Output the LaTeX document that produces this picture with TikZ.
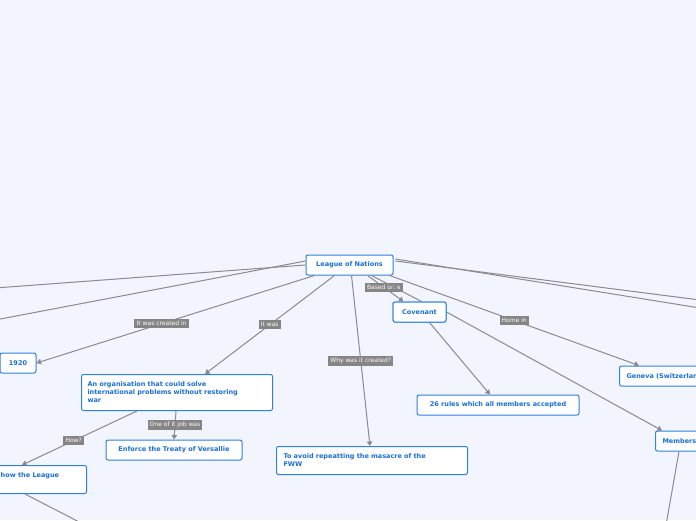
\documentclass[tikz,border=0pt]{standalone}
\usepackage{fontspec}
\setmainfont{DejaVu Sans}
\usetikzlibrary{arrows.meta}
\definecolor{bg}{HTML}{F2F5FE}
\definecolor{nb}{HTML}{2F80E0}
\definecolor{nt}{HTML}{1A6FD6}
\definecolor{lg}{HTML}{858585}
\definecolor{ln}{HTML}{8A8A90}
\tikzset{
 box/.style={draw=nb,line width=1pt,fill=white,rounded corners=2pt,text=nt,font=\bfseries\fontsize{6.5}{8}\selectfont,inner xsep=7pt,align=left,anchor=north west},
 lab/.style={fill=lg,text=white,font=\fontsize{6}{7}\selectfont,inner sep=2.2pt},
 conn/.style={draw=ln,line width=1pt},
 arr/.style={conn,-{Triangle[length=4.5pt,width=5.5pt]}}
}
\begin{document}
\begin{tikzpicture}[x=1pt,y=-1pt]
\fill[bg] (0,0) rectangle (696,520);
\useasboundingbox (0,0) rectangle (696,520);
% free ends
\coordinate (l1) at (-5,288);
\coordinate (l2) at (-5,320);
\coordinate (r1) at (700,300);
\coordinate (r2) at (700,308);
\coordinate (d1) at (666,525);
\coordinate (d2) at (85,525);
% nodes
\node[box,minimum width=87pt,minimum height=20pt,align=center,anchor=center] (lon) at (349.5,265) {League of Nations};
\node[box,minimum width=36pt,minimum height=20pt,anchor=center,align=center] (y1920) at (18,363) {1920};
\node[box,text width=179pt,minimum height=36pt,anchor=north west,inner xsep=6pt] (org) at (81,374) {An organisation that could solve\\international problems without restoring\\war};
\node[box,minimum width=136pt,minimum height=20pt,anchor=center,align=center] (enf) at (174,450) {Enforce the Treaty of Versallie};
\node[box,minimum width=120pt,minimum height=28pt,anchor=north east] (how) at (87,465) {n how the League\\\phantom{x}};
\node[box,text width=177pt,minimum height=28pt] (avoid) at (276,446) {To avoid repeatting the masacre of the\\FWW};
\node[box,minimum width=53pt,minimum height=20pt,anchor=center,align=center] (cov) at (419.5,312) {Covenant};
\node[box,minimum width=162pt,minimum height=20pt,anchor=center,align=center] (rules) at (498,405) {26 rules which all members accepted};
\node[box,minimum height=20pt,anchor=west] (gen) at (619,376) {Geneva (Switzerland)};
\node[box,minimum height=20pt,anchor=west] (mem) at (655,441) {Members};
% connectors
\draw[conn] (lon.west) -- (l1);
\draw[conn] ([yshift=4pt]lon.west) -- (l2);
\draw[conn] ([shift={(2pt,4pt)}]lon.east) -- (r1);
\draw[conn] ([shift={(2pt,6pt)}]lon.east) -- (r2);
\draw[arr] ([xshift=-35pt]lon.south) -- node[lab,pos=0.55]{It was created in} (y1920.east);
\draw[arr] ([xshift=-15pt]lon.south) -- node[lab,pos=0.5]{It was} ([xshift=28pt]org.north);
\draw[arr] ([xshift=2pt]lon.south) -- node[lab,pos=0.5]{Why was it created?} ([xshift=-2pt]avoid.north);
\draw[arr] ([xshift=18pt]lon.south) -- node[lab,pos=0.45]{Based on a} ([xshift=11pt]cov.north west);
\draw[arr] ([xshift=40pt]lon.south) -- node[lab,pos=0.5]{Home in} ([xshift=20pt]gen.north west);
\draw[conn] ([xshift=22pt]lon.south) -- ([xshift=2pt]cov.north);
\draw[arr] (cov.east) -- ([xshift=7pt]mem.north west);
\draw[arr] ([xshift=10pt]cov.south) -- ([xshift=-8pt]rules.north);
\draw[arr] ([xshift=-40pt]org.south) -- node[lab,pos=0.55]{How?} ([xshift=-65pt]how.north east);
\draw[arr] ([xshift=-1pt]org.south) -- node[lab,pos=0.5]{One of it job was} (enf.north);
\draw[conn] ([xshift=24pt]mem.south west) -- (d1);
\draw[conn] ([xshift=-62pt]how.south east) -- (d2);
% redraw Covenant on top of the line passing behind it
\node[box,minimum width=53pt,minimum height=20pt,anchor=center,align=center] at (419.5,312) {Covenant};
\end{tikzpicture}
\end{document}
